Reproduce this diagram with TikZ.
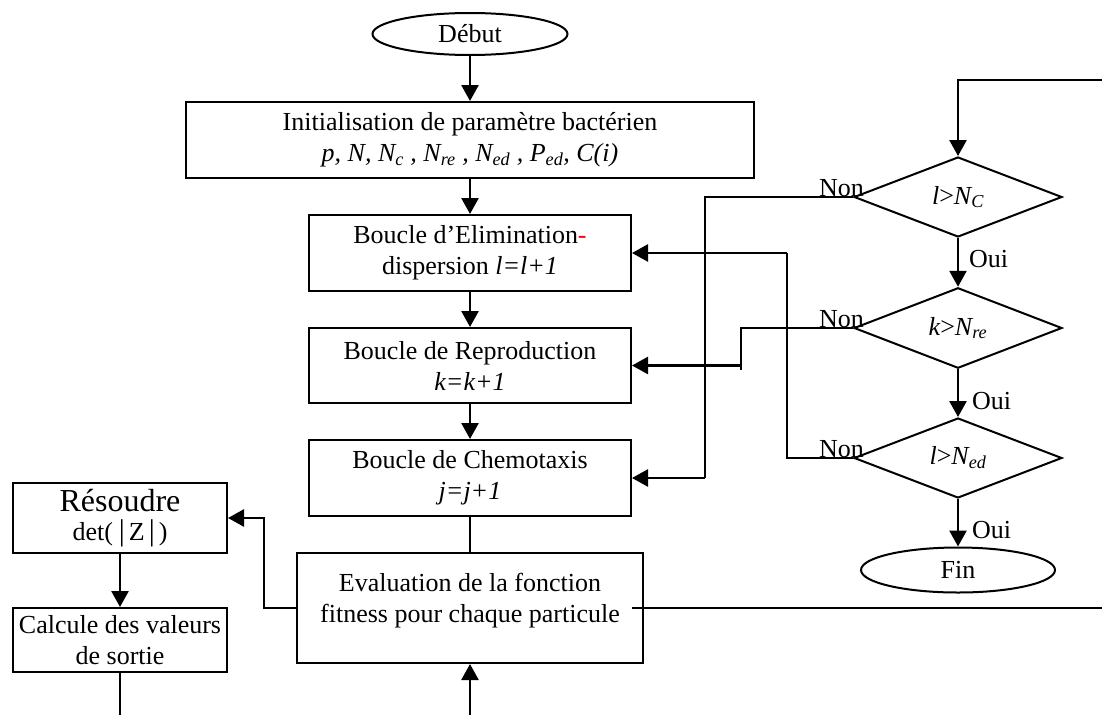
\documentclass[tikz,border=0pt]{standalone}
\usepackage{fontspec}
\setmainfont{Liberation Serif}
\usetikzlibrary{shapes.geometric,arrows.meta}

\begin{document}
\begin{tikzpicture}[x=1pt,y=-1pt,
  every node/.style={font=\fontsize{26}{31}\selectfont},
  box/.style={draw, line width=2pt, align=center, inner sep=0pt},
  term/.style={draw, ellipse, line width=2pt, inner sep=0pt},
  test/.style={draw, diamond, line width=2pt, inner sep=0pt,
               minimum width=208pt, minimum height=80pt},
  arr/.style={line width=2.6pt, -{Triangle[length=16pt,width=17pt]}},
  wire/.style={line width=1.7pt},
  lbl/.style={inner sep=0pt}
]
\useasboundingbox (0,0) rectangle (1102,715);

% main column
\node[term, minimum width=195pt, minimum height=42pt] (debut) at (470,34) {Début};
\node[box, minimum width=568pt, minimum height=76pt] (init) at (470,140)
  {Initialisation de paramètre bactérien\\
   {\itshape p, N, N\textsubscript{c} , N\textsubscript{re} , N\textsubscript{ed} , P\textsubscript{ed}, C(i)}};
\node[box, minimum width=322pt, minimum height=76pt] (elim) at (470,253)
  {Boucle d’Elimination\textcolor{red}{-}\\dispersion \textit{l=l+1}};
\node[box, minimum width=322pt, minimum height=75pt] (repro) at (470,365.5)
  {Boucle de Reproduction\\\textit{k=k+1}};
\node[box, minimum width=322pt, minimum height=76pt] (chemo) at (470,478)
  {Boucle de Chemotaxis\\\textit{j=j+1}};
\node[box, minimum width=346pt, minimum height=110pt] (eval) at (470,608) {};
\node[lbl, align=center] (evaltext) at (470,601)
  {Evaluation de la fonction\\fitness pour chaque particule};

% left column
\node[box, minimum width=214pt, minimum height=70pt] (resoudre) at (120,518)
  {{\fontsize{32}{35}\selectfont Résoudre}\\[-2pt]det(\hspace{6pt}{\fontsize{30}{30}\selectfont|}\hspace{4pt}Z\hspace{4pt}{\fontsize{30}{30}\selectfont|}\hspace{4pt})};
\node[box, minimum width=214pt, minimum height=64pt] (calcule) at (120,640)
  {Calcule des valeurs\\de sortie};

% tests
\node[test] (d1) at (958,197) {{\itshape l}>{\itshape N}\textsubscript{\itshape C}};
\node[test] (d2) at (958,328) {{\itshape k}>{\itshape N}\textsubscript{\itshape re}};
\node[test] (d3) at (958,458) {{\itshape l}>{\itshape N}\textsubscript{\itshape ed}};
\node[term, minimum width=194pt, minimum height=45pt] (fin) at (958,570) {Fin};

% free ends and corners
\coordinate (loopR) at (1102,80);
\coordinate (fitR) at (1102,608);
\coordinate (inB) at (470,715);
\coordinate (outB) at (120,715);
\coordinate (c1) at (705,478);
\coordinate (c2a) at (741,370);
\coordinate (c2b) at (741,365.5);
\coordinate (c3) at (787,253);

% main flow
\draw[arr] (debut) -- (init);
\draw[arr] (init) -- (elim);
\draw[arr] (elim) -- (repro);
\draw[arr] (repro) -- (chemo);
\draw[wire] (chemo) -- (eval);
\draw[arr] (inB) -- (eval);
\draw[arr] (eval.west) -| ([xshift=36pt]resoudre.east) -- (resoudre.east);
\draw[arr] (resoudre) -- (calcule);
\draw[wire, line width=2pt] (calcule) -- (outB);
\draw[wire, line width=2pt] ([xshift=-12pt]eval.east) -- (fitR);

% decision chain
\draw[arr] (loopR) -| (d1.north);
\draw[arr] (d1) -- (d2);
\draw[arr] (d2) -- (d3);
\draw[arr] (d3) -- (fin);

% loops back
\draw[wire] (d1.west) -| (c1);
\draw[arr] (c1) -- (chemo.east);
\draw[wire] (d2.west) -| (c2a);
\draw[arr] (c2b) -- (repro.east);
\draw[wire] (d3.west) -| (c3);
\draw[arr] (c3) -- (elim.east);

% labels
\node[lbl, anchor=base east] (non1) at (864,196) {Non};
\node[lbl, anchor=base east] (non2) at (864,327) {Non};
\node[lbl, anchor=base east] (non3) at (864,457) {Non};
\node[lbl, anchor=base west] (oui1) at (969,267) {Oui};
\node[lbl, anchor=base west] (oui2) at (972,409) {Oui};
\node[lbl, anchor=base west] (oui3) at (972,538) {Oui};
\end{tikzpicture}
\end{document}
